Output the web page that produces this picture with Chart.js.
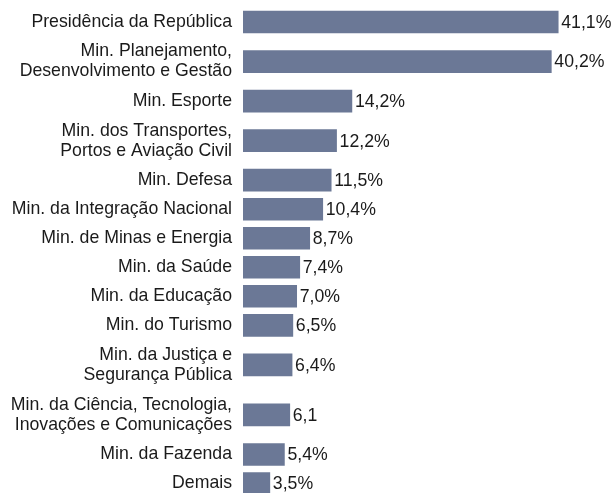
<!DOCTYPE html>
<html>
<head>
<meta charset="utf-8">
<script src="https://cdn.jsdelivr.net/npm/chart.js@4.4.1/dist/chart.umd.min.js"></script>
<style>
html,body{margin:0;padding:0;background:#fff;overflow:hidden;}
#wrap{width:613px;height:493px;position:relative;overflow:hidden;}
canvas{display:block;}
</style>
</head>
<body>
<div id="wrap"><canvas id="c" width="613" height="498"></canvas></div>
<script>
const categories = [
  ["Presidência da República"],
  ["Min. Planejamento,", "Desenvolvimento e Gestão"],
  ["Min. Esporte"],
  ["Min. dos Transportes,", "Portos e Aviação Civil"],
  ["Min. Defesa"],
  ["Min. da Integração Nacional"],
  ["Min. de Minas e Energia"],
  ["Min. da Saúde"],
  ["Min. da Educação"],
  ["Min. do Turismo"],
  ["Min. da Justiça e", "Segurança Pública"],
  ["Min. da Ciência, Tecnologia,", "Inovações e Comunicações"],
  ["Min. da Fazenda"],
  ["Demais"]
];
const values = [41.1, 40.2, 14.2, 12.2, 11.5, 10.4, 8.7, 7.4, 7.0, 6.5, 6.4, 6.1, 5.4, 3.5];
const valueLabels = ["41,1%", "40,2%", "14,2%", "12,2%", "11,5%", "10,4%", "8,7%", "7,4%", "7,0%", "6,5%", "6,4%", "6,1", "5,4%", "3,5%"];

// Row heights derived from the number of label lines (layout, not data)
const SINGLE = 29, EXTRA_LINE = 21;
const rowH = categories.map(l => SINGLE + (l.length - 1) * EXTRA_LINE);
const centers = [];
let acc = 0;
rowH.forEach(h => { centers.push(acc + h / 2); acc += h; });
const total = acc;

const FONT = "'Liberation Sans', Arial, sans-serif";
const FONT_SIZE = 17.7;
const LINE_H = 20;
const BAR = '#6b7896';
const TEXT = '#1a1a1a';

const labelsPlugin = {
  id: 'labels',
  afterDatasetsDraw(chart) {
    const ctx = chart.ctx;
    const meta = chart.getDatasetMeta(0);
    const left = chart.chartArea.left;
    ctx.save();
    ctx.font = FONT_SIZE + 'px ' + FONT;
    ctx.fillStyle = TEXT;
    ctx.textBaseline = 'middle';
    meta.data.forEach((bar, i) => {
      ctx.textAlign = 'left';
      ctx.fillText(valueLabels[i], bar.x + 3, bar.y + 1);
      ctx.textAlign = 'right';
      const lines = categories[i];
      const y0 = bar.y - (lines.length - 1) * LINE_H / 2;
      lines.forEach((ln, k) => ctx.fillText(ln, left - 11, y0 + k * LINE_H));
    });
    ctx.restore();
  }
};

new Chart(document.getElementById('c'), {
  type: 'bar',
  data: {
    datasets: [{
      data: values.map((v, i) => ({ x: v, y: centers[i] })),
      backgroundColor: BAR,
      borderWidth: 0,
      barThickness: 22
    }]
  },
  options: {
    indexAxis: 'y',
    responsive: false,
    animation: false,
    events: [],
    layout: { padding: { top: 7.5, bottom: 0, left: 243, right: 8 } },
    plugins: { legend: { display: false }, tooltip: { enabled: false } },
    scales: {
      x: { type: 'linear', min: 0, max: 47.2, display: false, offset: false },
      y: { type: 'linear', reverse: true, min: 0, max: total, display: false, offset: false, grace: 0 }
    }
  },
  plugins: [labelsPlugin]
});
</script>
</body>
</html>
